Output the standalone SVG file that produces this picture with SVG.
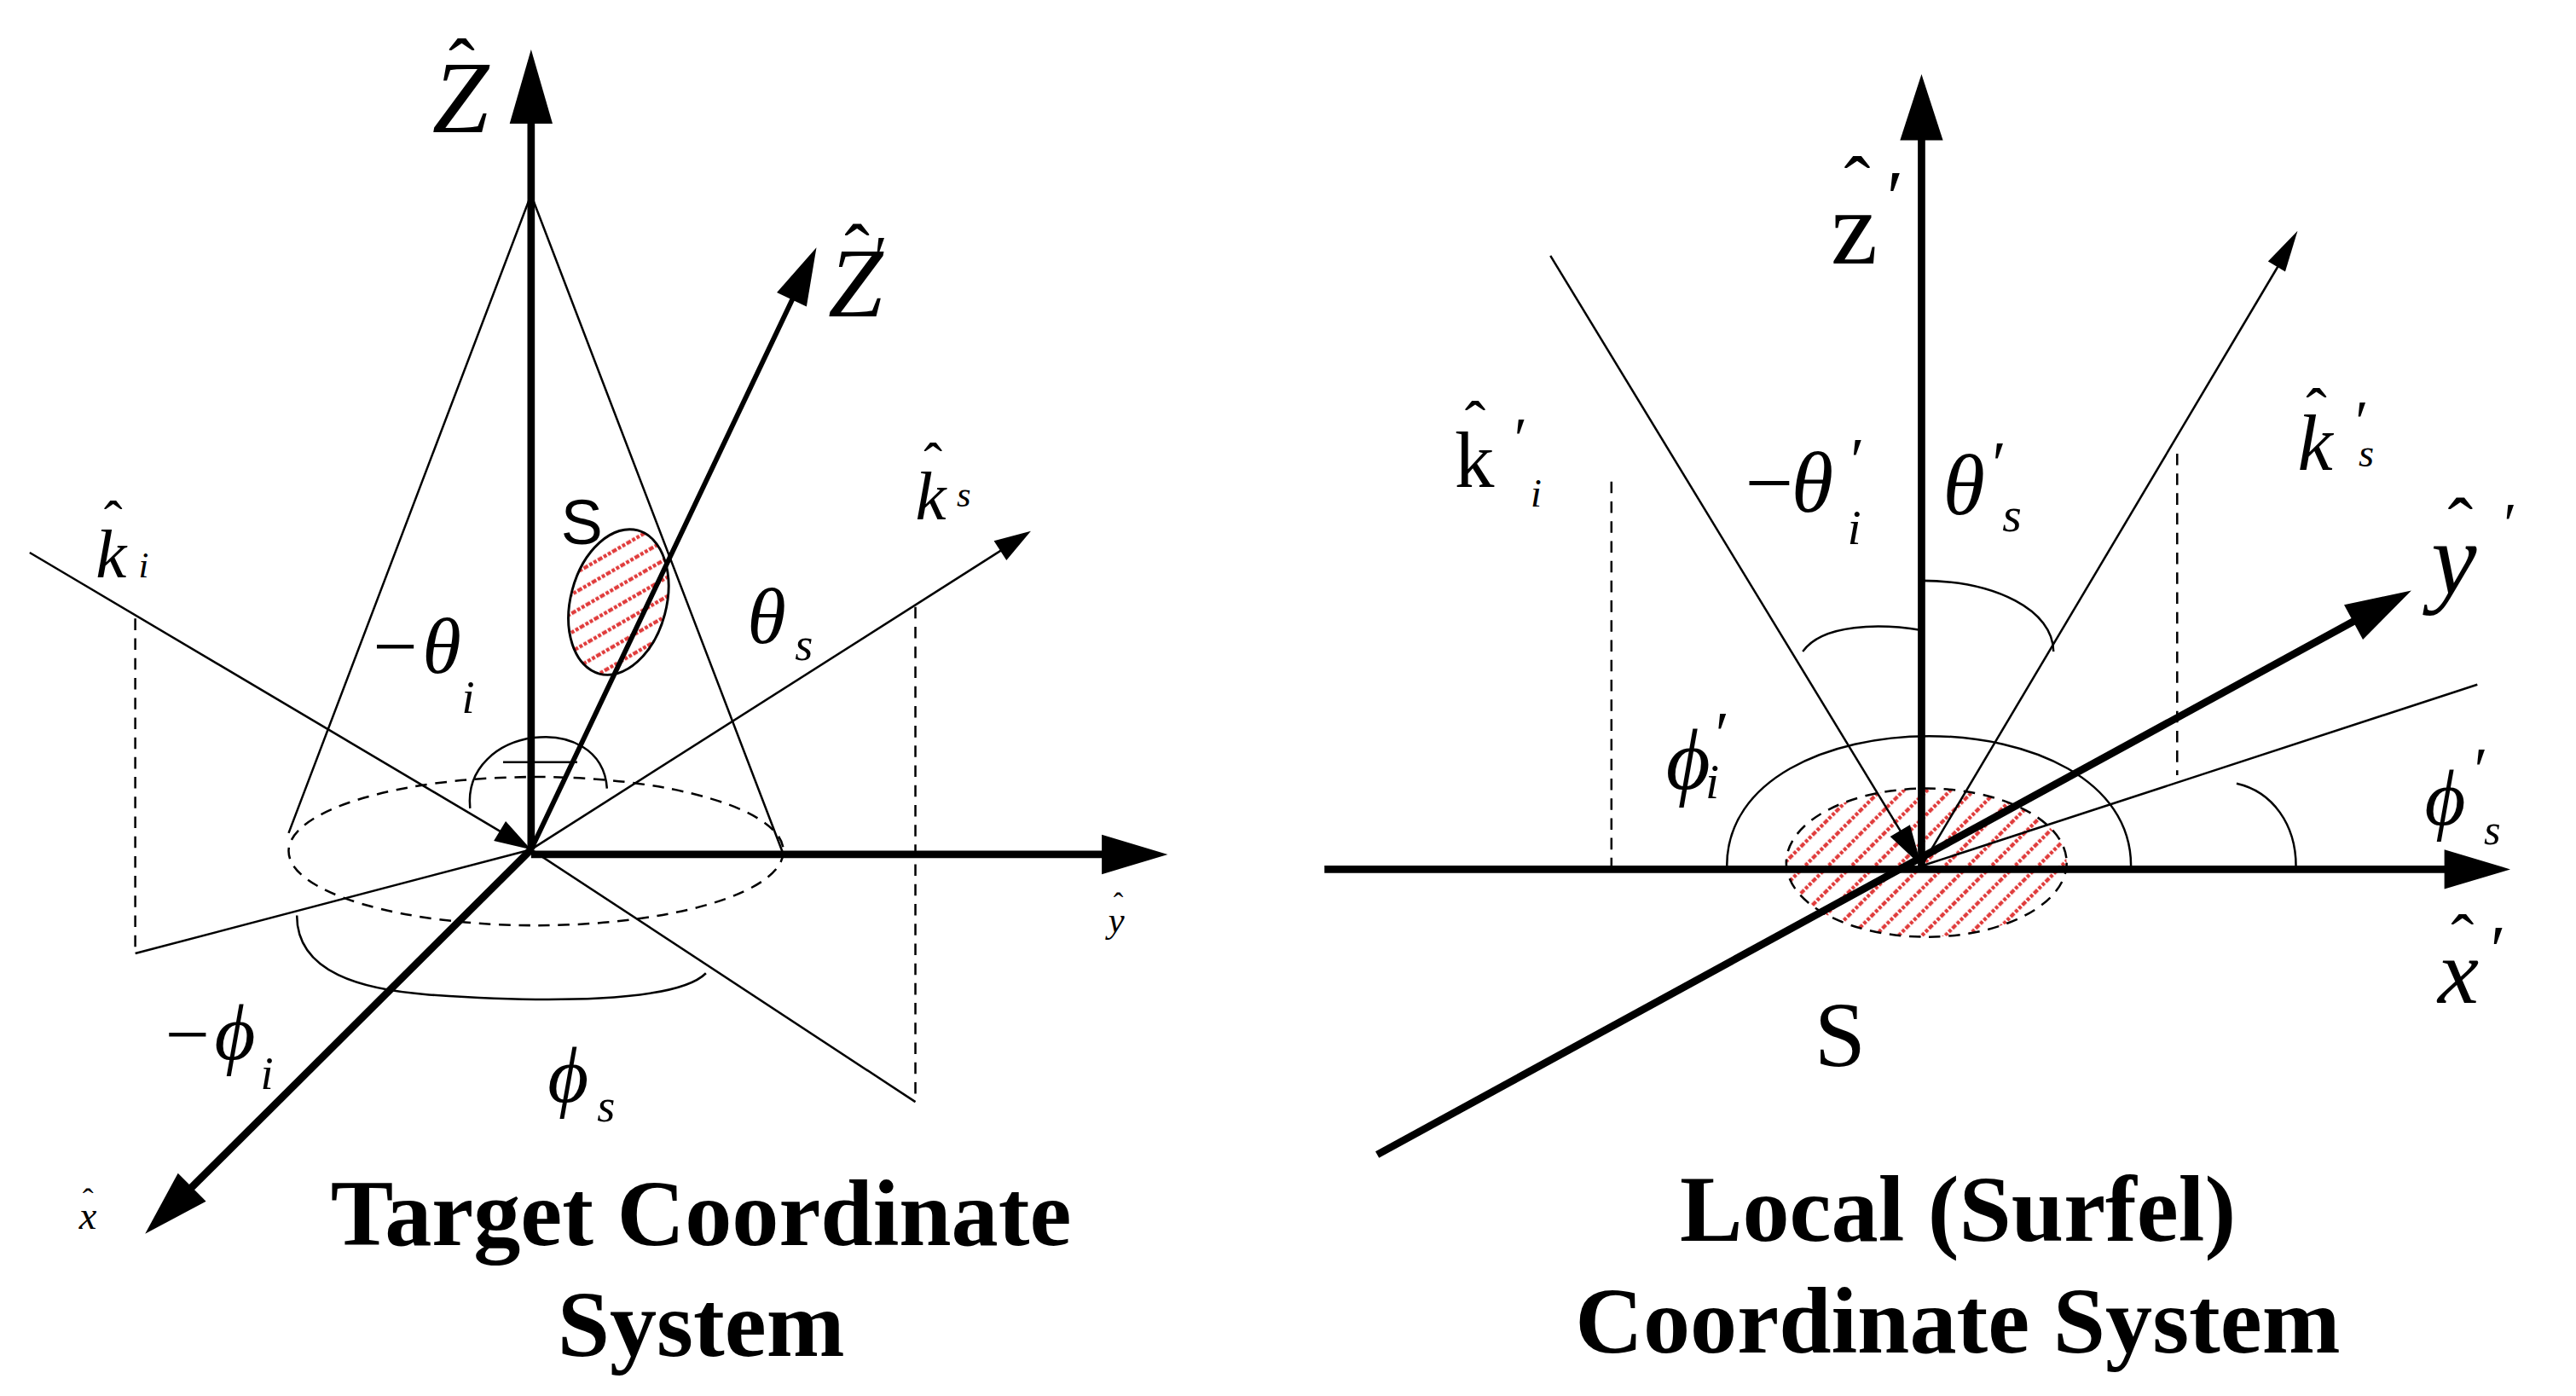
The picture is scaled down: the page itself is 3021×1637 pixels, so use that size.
<svg xmlns="http://www.w3.org/2000/svg" width="3021" height="1637" viewBox="0 0 3021 1637">
<defs>
<style>
.thick{stroke:#000;stroke-width:4.5;fill:none}
.mid{stroke:#000;stroke-width:3;fill:none}
.thin{stroke:#000;stroke-width:1.3;fill:none}
.dash{stroke:#000;stroke-width:1.3;fill:none;stroke-dasharray:7 5}
.hdash{stroke:#000;stroke-width:1.3;fill:url(#hatch);stroke-dasharray:7 5}
.ah{fill:#000}
.it{font-family:"Liberation Serif",serif;font-style:italic;fill:#000}
.rm{font-family:"Liberation Serif",serif;fill:#000}
.sans{font-family:"Liberation Sans",sans-serif;fill:#000}
.title{font-family:"Liberation Serif",serif;font-weight:bold;font-size:57px;fill:#000;text-anchor:middle}
</style>
<pattern id="hatch" patternUnits="userSpaceOnUse" width="10" height="10" patternTransform="rotate(-45)">
<rect width="10" height="10" fill="#fff"/>
<line x1="0" y1="5" x2="10" y2="5" stroke="#e03c3c" stroke-width="2.2" stroke-dasharray="2 1"/>
</pattern>
</defs>
<rect width="3021" height="1637" fill="#fff"/>
<g transform="scale(1.9343)">
<g id="left-shapes">
<ellipse cx="325" cy="516" rx="150" ry="45" class="dash"/>
<polyline points="175,505 322,118 475,518" class="thin"/>
<ellipse cx="375" cy="365" rx="29" ry="45" transform="rotate(15 375 365)" fill="url(#hatch)" stroke="#000" stroke-width="1.5"/>
<path d="M285,490 C280,440 365,430 368,478" class="thin"/>
<line x1="305" y1="462" x2="350" y2="462" class="thin"/>
<path d="M180,555 C180,590 220,600 260,603 C330,608 410,608 428,590" class="thin"/>
</g>
<g id="left-connectors">
<line x1="322" y1="515" x2="322" y2="70" class="thick"/>
<polygon points="322,30 309,75 335,75" class="ah"/>
<line x1="322" y1="518" x2="672" y2="518" class="thick"/>
<polygon points="708,518 668,506 668,530" class="ah"/>
<line x1="322" y1="515" x2="112" y2="724" class="thick"/>
<polygon points="88,748 124.9,728.3 107.9,711.3" class="ah"/>
<line x1="322" y1="515" x2="483" y2="176" class="mid"/>
<polygon points="495,150 489,185.9 471,177.3" class="ah"/>
<line x1="322" y1="515" x2="608" y2="333" class="thin"/>
<polygon points="625,322 610.2,339.7 602.6,327.9" class="ah"/>
<line x1="18" y1="335" x2="305" y2="505" class="thin"/>
<polygon points="322,515 299.4,509.8 306.6,497.8" class="ah"/>
<line x1="82" y1="375" x2="82" y2="578" class="dash"/>
<line x1="82" y1="578" x2="322" y2="515" class="thin"/>
<line x1="555" y1="368" x2="555" y2="668" class="dash"/>
<line x1="322" y1="515" x2="555" y2="668" class="thin"/>
</g>
<g id="left-labels">
<text x="262" y="80" class="it" font-size="62">Z</text><text x="272" y="57" class="rm" font-size="48">ˆ</text>
<text x="502" y="192" class="it" font-size="60">Z</text><text x="512" y="168" class="rm" font-size="46">ˆ</text><text x="530" y="168" class="rm" font-size="36">′</text>
<text x="340" y="330" class="sans" font-size="38">S</text>
<text x="555" y="315" class="it" font-size="42">k</text><text x="560" y="292" class="rm" font-size="34">ˆ</text><text x="580" y="307" class="it" font-size="22">s</text>
<text x="58" y="350" class="it" font-size="42">k</text><text x="63" y="327" class="rm" font-size="34">ˆ</text><text x="84" y="350" class="it" font-size="22">i</text>
<text x="453" y="390" class="it" font-size="48">θ</text><text x="482" y="400" class="it" font-size="28">s</text>
<text x="226" y="408" class="rm" font-size="48">−</text><text x="256" y="408" class="it" font-size="48">θ</text><text x="280" y="432" class="it" font-size="28">i</text>
<text x="100" y="643" class="rm" font-size="48">−</text><text x="130" y="642" class="it" font-size="48">ϕ</text><text x="158" y="660" class="it" font-size="28">i</text>
<text x="332" y="668" class="it" font-size="48">ϕ</text><text x="362" y="680" class="it" font-size="28">s</text>
<text x="672" y="565" class="it" font-size="22">y</text><text x="675" y="554" class="rm" font-size="18">ˆ</text>
<text x="48" y="745" class="it" font-size="24">x</text><text x="50" y="734" class="rm" font-size="20">ˆ</text>
<text x="425" y="755" class="title">Target Coordinate</text>
<text x="425" y="822" class="title">System</text>
</g>
<g id="right-shapes">
<ellipse cx="1168" cy="523" rx="85" ry="45" class="hdash"/>
<path d="M1047,525 C1047,420 1292,420 1292,525" class="thin"/>
<path d="M1093,395 C1105,378 1140,378 1165,382" class="thin"/>
<path d="M1165,352 C1210,352 1245,370 1245,395" class="thin"/>
<path d="M1356,475 C1378,480 1392,500 1392,525" class="thin"/>
</g>
<g id="right-connectors">
<line x1="1165" y1="525" x2="1165" y2="80" class="thick"/>
<polygon points="1165,45 1152,85 1178,85" class="ah"/>
<line x1="803" y1="527" x2="1485" y2="527" class="thick"/>
<polygon points="1522,527 1482,515 1482,539" class="ah"/>
<line x1="835" y1="700" x2="1430" y2="375" class="thick"/>
<polygon points="1462,358 1432.6,387.7 1421.2,366.7" class="ah"/>
<line x1="940" y1="155" x2="1153" y2="505" class="thin"/>
<polygon points="1165,525 1146,507.2 1158,500" class="ah"/>
<line x1="1165" y1="525" x2="1382" y2="160" class="thin"/>
<polygon points="1393,140 1385.5,164.6 1375.1,158.4" class="ah"/>
<line x1="1165" y1="525" x2="1502" y2="415" class="thin"/>
<line x1="977" y1="292" x2="977" y2="525" class="dash"/>
<line x1="1320" y1="275" x2="1320" y2="470" class="dash"/>
</g>
<g id="right-labels">
<text x="1110" y="160" class="rm" font-size="64">z</text><text x="1118" y="128" class="rm" font-size="48">ˆ</text><text x="1144" y="135" class="rm" font-size="46">′</text>
<text x="882" y="295" class="rm" font-size="48">k</text><text x="888" y="270" class="rm" font-size="38">ˆ</text><text x="918" y="278" class="rm" font-size="36">′</text><text x="928" y="307" class="it" font-size="24">i</text>
<text x="1393" y="285" class="it" font-size="48">k</text><text x="1398" y="262" class="rm" font-size="38">ˆ</text><text x="1428" y="268" class="rm" font-size="36">′</text><text x="1430" y="283" class="it" font-size="24">s</text>
<text x="1058" y="310" class="rm" font-size="52">−</text><text x="1086" y="310" class="it" font-size="52">θ</text><text x="1122" y="292" class="rm" font-size="38">′</text><text x="1120" y="330" class="it" font-size="30">i</text>
<text x="1178" y="312" class="it" font-size="52">θ</text><text x="1208" y="294" class="rm" font-size="38">′</text><text x="1214" y="322" class="it" font-size="30">s</text>
<text x="1010" y="478" class="it" font-size="52">ϕ</text><text x="1040" y="458" class="rm" font-size="38">′</text><text x="1034" y="484" class="it" font-size="30">i</text>
<text x="1470" y="500" class="it" font-size="48">ϕ</text><text x="1500" y="480" class="rm" font-size="38">′</text><text x="1506" y="512" class="it" font-size="26">s</text>
<text x="1478" y="608" class="it" font-size="56">x</text><text x="1486" y="583" class="rm" font-size="42">ˆ</text><text x="1510" y="590" class="rm" font-size="42">′</text>
<text x="1474" y="360" class="it" font-size="62">y</text><text x="1484" y="334" class="rm" font-size="46">ˆ</text><text x="1518" y="330" class="rm" font-size="36">′</text>
<text x="1100" y="646" class="rm" font-size="56">S</text>
<text x="1187" y="752" class="title">Local (Surfel)</text>
<text x="1187" y="820" class="title">Coordinate System</text>
</g>
</g>
</svg>
